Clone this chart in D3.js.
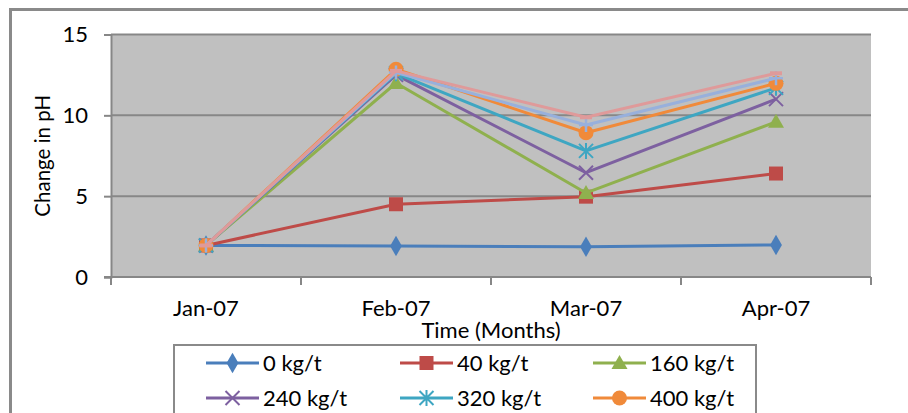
<!DOCTYPE html>
<html>
<head>
<meta charset="utf-8">
<script src="https://cdn.jsdelivr.net/npm/d3@7"></script>
<style>
body { margin: 0; background: #fff; }
svg { display: block; font-family: Lato, "Open Sans", sans-serif; }
</style>
</head>
<body>
<svg id="chart" width="908" height="413"></svg>
<script>
/* Data */
var months = ["Jan-07", "Feb-07", "Mar-07", "Apr-07"];
var seriesNames = ["0 kg/t", "40 kg/t", "160 kg/t", "240 kg/t", "320 kg/t", "400 kg/t", "480 kg/t", "560 kg/t"];
var ph0 = [1.95, 1.92, 1.87, 1.98];
var ph40 = [1.95, 4.5, 4.97, 6.4];
var ph160 = [1.95, 12.0, 5.2, 9.6];
var ph240 = [1.95, 12.5, 6.45, 11.0];
var ph320 = [1.95, 12.6, 7.8, 11.7];
var ph400 = [1.95, 12.85, 8.92, 11.98];
var ph480 = [1.95, 12.65, 9.4, 12.3];
var ph560 = [1.95, 12.75, 9.88, 12.6];
var yTicks = [0, 5, 10, 15];

var seriesValues = [ph0, ph40, ph160, ph240, ph320, ph400, ph480, ph560];
var colors = ["#4a7ebb", "#be4b48", "#8fb04e", "#7d60a0", "#3ea6c2", "#f08a3a", "#98b0dc", "#df9a9a"];
var markers = ["diamond", "square", "triangle", "x", "star", "circle", "plus", "dash"];

var svg = d3.select("#chart");
var margin = { left: 111, right: 871, top: 34.5, bottom: 277 };

// Outer chart frame (runs off the picture)
svg.append("rect")
    .attr("x", 10.5).attr("y", 9.5)
    .attr("width", 960).attr("height", 500)
    .attr("fill", "#fff").attr("stroke", "#8a8a8a").attr("stroke-width", 3);

var x = d3.scaleBand().domain(months).range([margin.left, margin.right]);
var y = d3.scaleLinear().domain([0, 15]).range([margin.bottom, margin.top]);

// Plot area
svg.append("rect")
    .attr("x", margin.left).attr("y", margin.top)
    .attr("width", margin.right - margin.left).attr("height", margin.bottom - margin.top)
    .attr("fill", "#c0c0c0");

// Gridlines
svg.append("g").selectAll("line")
    .data(yTicks.slice(1))
    .enter().append("line")
    .attr("x1", margin.left).attr("x2", margin.right)
    .attr("y1", function (d) { return y(d); })
    .attr("y2", function (d) { return y(d); })
    .attr("stroke", "#878787").attr("stroke-width", 2);

// Y axis
var yAxis = svg.append("g")
    .attr("transform", "translate(" + margin.left + ",0)")
    .call(d3.axisLeft(y).tickValues(yTicks).tickSize(7).tickPadding(16));
yAxis.select(".domain").attr("stroke", "#878787").attr("stroke-width", 2);
yAxis.selectAll(".tick line").attr("stroke", "#878787").attr("stroke-width", 2);
yAxis.selectAll(".tick text")
    .attr("font-size", 22).attr("fill", "#000")
    .style("font-family", "Lato, 'Open Sans', sans-serif");

// X axis line and tick marks between the categories
var bounds = months.map(function (m) { return x(m); }).concat([x.range()[1]]);
svg.append("line")
    .attr("x1", margin.left - 7).attr("x2", margin.right)
    .attr("y1", margin.bottom).attr("y2", margin.bottom)
    .attr("stroke", "#878787").attr("stroke-width", 2);
svg.append("g").selectAll("line")
    .data(bounds)
    .enter().append("line")
    .attr("x1", function (d) { return d; }).attr("x2", function (d) { return d; })
    .attr("y1", margin.bottom).attr("y2", margin.bottom + 8)
    .attr("stroke", "#878787").attr("stroke-width", 2);
svg.append("g").selectAll("text")
    .data(months)
    .enter().append("text")
    .attr("x", function (d) { return x(d) + x.bandwidth() / 2; })
    .attr("y", 316)
    .attr("text-anchor", "middle")
    .attr("font-size", 22)
    .text(function (d) { return d; });

// Axis titles
svg.append("text")
    .attr("x", (margin.left + margin.right) / 2).attr("y", 338)
    .attr("text-anchor", "middle").attr("font-size", 22)
    .text("Time (Months)");
svg.append("text")
    .attr("transform", "translate(50," + ((margin.top + margin.bottom) / 2) + ") rotate(-90)")
    .attr("text-anchor", "middle").attr("font-size", 20.5)
    .text("Change in pH");

/* Marker drawing */
function drawMarker(g, type, color, s) {
    var h = s / 2;
    if (type === "diamond") {
        g.append("path").attr("d", d3.symbol().type(d3.symbolDiamond).size(s * s * 0.62)).attr("fill", color);
    } else if (type === "square") {
        g.append("rect").attr("x", -h).attr("y", -h).attr("width", s).attr("height", s).attr("fill", color);
    } else if (type === "triangle") {
        g.append("path").attr("d", "M0," + (-h - 1) + "L" + (h + 1) + "," + (h - 1) + "L" + (-h - 1) + "," + (h - 1) + "Z").attr("fill", color);
    } else if (type === "circle") {
        g.append("circle").attr("r", h + 0.5).attr("fill", color);
    } else if (type === "x") {
        g.append("path").attr("d", "M" + (-h) + "," + (-h) + "L" + h + "," + h + "M" + (-h) + "," + h + "L" + h + "," + (-h))
            .attr("stroke", color).attr("stroke-width", 2).attr("fill", "none");
    } else if (type === "star") {
        g.append("path").attr("d", "M" + (-h) + "," + (-h) + "L" + h + "," + h + "M" + (-h) + "," + h + "L" + h + "," + (-h) + "M0," + (-h - 1) + "L0," + (h + 1))
            .attr("stroke", color).attr("stroke-width", 2).attr("fill", "none");
    } else if (type === "plus") {
        g.append("path").attr("d", "M" + (-h) + ",0L" + h + ",0M0," + (-h) + "L0," + h)
            .attr("stroke", color).attr("stroke-width", 2.5).attr("fill", "none");
    } else if (type === "dash") {
        g.append("path").attr("d", "M" + (-h + 1) + ",0L" + (h - 1) + ",0")
            .attr("stroke", color).attr("stroke-width", 4).attr("fill", "none");
    }
}

// Series
var line = d3.line()
    .x(function (d, i) { return x(months[i]) + x.bandwidth() / 2; })
    .y(function (d) { return y(d); });

seriesValues.forEach(function (vals, si) {
    var g = svg.append("g");
    g.append("path")
        .attr("d", line(vals))
        .attr("fill", "none")
        .attr("stroke", colors[si])
        .attr("stroke-width", 3)
        .attr("stroke-linejoin", "round");
    vals.forEach(function (v, i) {
        var m = g.append("g")
            .attr("transform", "translate(" + (x(months[i]) + x.bandwidth() / 2) + "," + y(v) + ")");
        drawMarker(m, markers[si], colors[si], 14);
    });
});

// Legend (third row falls outside the picture)
svg.append("rect")
    .attr("x", 174).attr("y", 345)
    .attr("width", 582).attr("height", 140)
    .attr("fill", "#fff").attr("stroke", "#8a8a8a").attr("stroke-width", 2);

var legendCols = [206, 400, 593];
var legend = svg.append("g").selectAll("g")
    .data(seriesNames)
    .enter().append("g")
    .attr("transform", function (d, i) {
        return "translate(" + legendCols[i % 3] + "," + (363 + Math.floor(i / 3) * 35) + ")";
    });
legend.append("line")
    .attr("x1", 0).attr("x2", 53)
    .attr("stroke", function (d, i) { return colors[i]; })
    .attr("stroke-width", 3);
legend.each(function (d, i) {
    var m = d3.select(this).append("g").attr("transform", "translate(26.5,0)");
    drawMarker(m, markers[i], colors[i], 14);
});
legend.append("text")
    .attr("x", 57).attr("y", 8)
    .attr("font-size", 22)
    .text(function (d) { return d; });
</script>
</body>
</html>
